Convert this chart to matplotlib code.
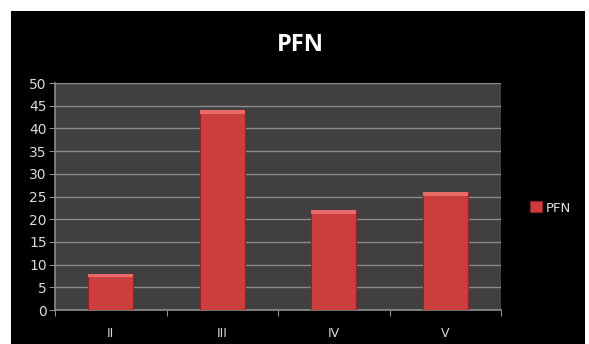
import matplotlib
matplotlib.use("Agg")
import matplotlib.pyplot as plt
from matplotlib.patches import Rectangle
import numpy as np

categories = ["II", "III", "IV", "V"]
values = [8, 44, 22, 26]
series_name = "PFN"
yticks = list(range(0, 51, 5))

W, H = 589, 344
fig = plt.figure(figsize=(W / 100, H / 100), dpi=100)
fig.patch.set_facecolor("white")
# black chart area
fig.add_artist(Rectangle((11 / W, 0), (585 - 11) / W, (H - 11) / H,
                         transform=fig.transFigure, facecolor="black",
                         edgecolor="none", zorder=0))

ax = fig.add_axes([55 / W, 1 - 310 / H, (501 - 55) / W, (310 - 83) / H])
ax.set_facecolor("#404040")
x = np.arange(len(categories))
bars = ax.bar(x, values, width=0.4, color="#cc3d3d", edgecolor="#8e2424",
              linewidth=0.8, zorder=3, label=series_name)
# light bevel at bar tops
ax.bar(x, [0.8] * len(values), bottom=[v - 0.8 for v in values], width=0.4,
       color="#e86a6a", edgecolor="none", zorder=4)

ax.set_xlim(-0.5, len(categories) - 0.5)
ax.set_ylim(0, 50)
ax.set_yticks(yticks)
ax.yaxis.grid(True, color="#8c8c8c", linewidth=1.0, zorder=1)
ax.set_axisbelow(True)
ax.set_xticks(np.arange(-0.5, len(categories), 1.0))
ax.set_xticklabels([])
ax.set_xticks(x, minor=True)
ax.set_xticklabels(categories, minor=True)
ax.tick_params(axis="x", which="major", length=4, color="#8c8c8c", direction="out")
ax.tick_params(axis="x", which="minor", length=0, pad=12, labelcolor="#d9d9d9", labelsize=9)
ax.tick_params(axis="y", length=4, color="#8c8c8c", labelcolor="#d9d9d9", labelsize=10, pad=2)
for s in ["top", "right"]:
    ax.spines[s].set_visible(False)
for s in ["left", "bottom"]:
    ax.spines[s].set_color("#8c8c8c")
    ax.spines[s].set_linewidth(1.2)

fig.text(300 / W, 1 - 45 / H, "PFN", ha="center", va="center", color="white",
         fontsize=17, fontweight="bold", family="Open Sans")

leg = fig.legend(handles=[bars], labels=[series_name], loc="center left",
                 bbox_to_anchor=(518 / W, 1 - 208 / H), frameon=False,
                 handlelength=0.9, handleheight=0.9, handletextpad=0.3,
                 fontsize=9.5)
for t in leg.get_texts():
    t.set_color("#e0e0e0")

fig.savefig("out.png", dpi=100, facecolor=fig.get_facecolor())
